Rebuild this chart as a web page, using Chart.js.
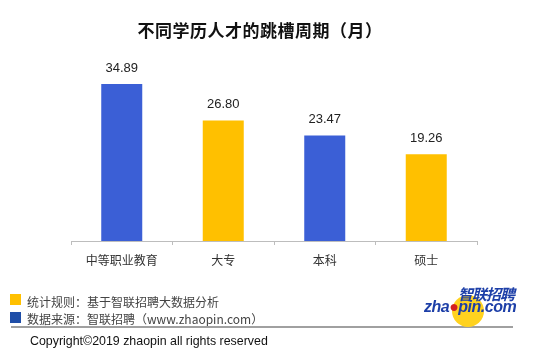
<!DOCTYPE html>
<html>
<head>
<meta charset="utf-8">
<script src="https://cdn.jsdelivr.net/npm/chart.js@4/dist/chart.umd.min.js"></script>
<style>
  html, body { margin: 0; padding: 0; background: #fff; }
  #wrap { position: relative; width: 554px; height: 353px; overflow: hidden;
          font-family: "Noto Sans CJK SC", "Liberation Sans", sans-serif; }
  #chart { position: absolute; left: 0; top: 0; }
  #title { position: absolute; left: 0; width: 520px; top: 19px; text-align: center;
           font-size: 17px; font-weight: bold; color: #111; line-height: 22px; letter-spacing: 0.5px; }
  .note { position: absolute; left: 27px; font-size: 12px; color: #444; line-height: 16px; }
  .sq { position: absolute; left: 10px; width: 11px; height: 11px; }
  #rule { position: absolute; left: 11px; top: 326px; width: 502px; height: 0;
          border-top: 2px solid #a0a0a0; }
  #copy { position: absolute; left: 30px; top: 332px; font-size: 12.4px; color: #111;
          font-family: "Liberation Sans", "Noto Sans CJK SC", sans-serif; line-height: 18px; }
  #logo-c { position: absolute; left: 452px; top: 295px; width: 32px; height: 32px;
            border-radius: 50%; background: #ffd21f; }
  #logo-cn { position: absolute; left: 458px; top: 285px; font-size: 15px; font-weight: bold;
             font-style: italic; color: #1d3fa8; line-height: 18px; letter-spacing: -1px; }
  #logo-en { position: absolute; left: 424px; top: 299px; font-size: 16px; font-weight: bold;
             font-style: italic; color: #1d3fa8; line-height: 16px; letter-spacing: -0.5px;
             font-family: "Liberation Sans", sans-serif; }
  #logo-en span { color: #d42020; }
</style>
</head>
<body>
<div id="wrap">
  <canvas id="chart" width="554" height="353"></canvas>
  <div id="title">不同学历人才的跳槽周期（月）</div>
  <div class="sq" style="top:294px;background:#ffc000"></div>
  <div class="note" style="top:294px">统计规则：基于智联招聘大数据分析</div>
  <div class="sq" style="top:312px;background:#1f4ea8"></div>
  <div class="note" style="top:311px">数据来源：智联招聘（www.zhaopin.com）</div>
  <div id="rule"></div>
  <div id="copy">Copyright©2019 zhaopin all rights reserved</div>
  <div id="logo-c"></div>
  <div id="logo-cn">智联招聘</div>
  <div id="logo-en">zha<span>●</span>pin.com</div>
</div>
<script>
var categories = ['中等职业教育', '大专', '本科', '硕士'];
var months = [34.89, 26.80, 23.47, 19.26];
var barColors = ['#3b5fd6', '#ffc000', '#3b5fd6', '#ffc000'];

// draws the value above each bar
var valueLabels = {
    id: 'valueLabels',
    afterDatasetsDraw: function(chart) {
        var ctx = chart.ctx;
        var meta = chart.getDatasetMeta(0);
        ctx.save();
        ctx.font = "13px 'Liberation Sans', sans-serif";
        ctx.fillStyle = '#222';
        ctx.textAlign = 'center';
        ctx.textBaseline = 'middle';
        meta.data.forEach(function(bar, i) {
            ctx.fillText(months[i].toFixed(2), bar.x, bar.y - 16);
        });
        ctx.restore();
    }
};

new Chart(document.getElementById('chart'), {
    type: 'bar',
    data: {
        labels: categories,
        datasets: [{
            data: months,
            backgroundColor: barColors,
            borderWidth: 0,
            barPercentage: 0.404,
            categoryPercentage: 1
        }]
    },
    options: {
        responsive: false,
        animation: false,
        layout: { padding: { left: 71, right: 77, top: 61, bottom: 82 } },
        plugins: {
            legend: { display: false },
            tooltip: { enabled: false }
        },
        scales: {
            y: { display: false, min: 0, max: 40 },
            x: {
                afterFit: function(scale) { scale.height = 30; },
                border: { color: '#bdbdbd', width: 1 },
                grid: { display: true, drawOnChartArea: false, offset: true, tickLength: 4, color: '#bdbdbd' },
                ticks: {
                    padding: 8,
                    color: '#333',
                    font: { size: 12, family: "'Noto Sans CJK SC', sans-serif" }
                }
            }
        }
    },
    plugins: [valueLabels]
});
</script>
</body>
</html>
